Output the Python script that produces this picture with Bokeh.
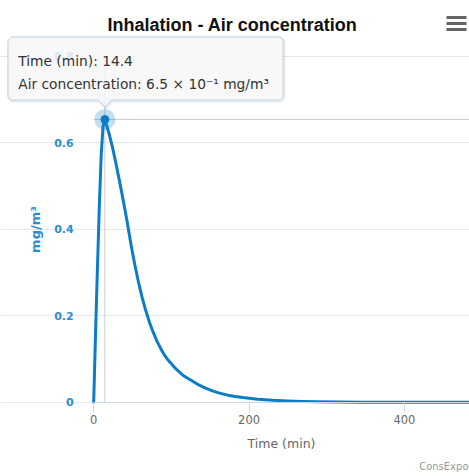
import math
from bokeh.plotting import figure
from bokeh.models import Range1d, FixedTicker, Label, PolyAnnotation, BoxAnnotation
from bokeh.embed import file_html
from bokeh.resources import INLINE

# ---------------- data ----------------
title_text = "Inhalation - Air concentration"
x_title = "Time (min)"
y_title = "mg/m³"
credit_text = "ConsExpo"
series_name = "Air concentration"
x_ticks = [0, 200, 400]
y_ticks = [0, 0.2, 0.4, 0.6, 0.8]
y_tick_labels = ["0", "0.2", "0.4", "0.6", "0.8"]

time_min = [0, 2.4, 4.8, 7.2, 9.6, 12.0, 14.4, 19.2, 24.0, 28.8, 33.6, 38.4, 43.2,
            48.0, 52.8, 57.6, 62.4, 67.2, 72.0, 76.8, 81.6, 86.4, 91.2, 96.0,
            105.6, 115.2, 124.8, 134.4, 144.0, 153.6, 163.2, 172.8, 182.4, 192.0,
            211.2, 230.4, 249.6, 268.8, 288.0, 316.8, 345.6, 384.0, 432.0, 490.0]
air_conc = [0.0, 0.16, 0.31, 0.45, 0.57, 0.637, 0.654, 0.625, 0.591, 0.551, 0.508, 0.463, 0.416,
            0.365, 0.319, 0.278, 0.242, 0.211, 0.184, 0.161, 0.141, 0.124, 0.109, 0.097,
            0.0777, 0.062, 0.0517, 0.041, 0.0326, 0.0259, 0.0206, 0.0165, 0.0134, 0.0109,
            0.0072, 0.0048, 0.0032, 0.0021, 0.0014, 0.0007, 0.0004, 0.0002, 0.0001, 0.00003]
hover_time = 14.4
y_max = 0.8

# ---------------- styling / layout ----------------
LINE = "#0b7cc7"
AXIS_BLUE = "#2a8dd4"
W, H = 469, 476
ORIGIN_X, ORIGIN_Y = 93.2, 401.8      # pixel position of (0, 0)
PX_PER_MIN = 0.7768
PX_PER_UNIT = 432.5

x_start = -ORIGIN_X / PX_PER_MIN
x_end = (W - ORIGIN_X) / PX_PER_MIN
y_end = ORIGIN_Y / PX_PER_UNIT
y_start = -(H - ORIGIN_Y) / PX_PER_UNIT


def sx(px):
    return px


def sy(py):
    return H - py


SUP = str.maketrans("-0123456789", "⁻⁰¹²³⁴⁵⁶⁷⁸⁹")


def sci(v):
    e = math.floor(math.log10(v))
    m = v / 10 ** e
    return f"{m:.1f} × 10{str(e).translate(SUP)}"


p = figure(width=W, height=H, output_backend="svg", toolbar_location=None,
           x_range=Range1d(x_start, x_end), y_range=Range1d(y_start, y_end),
           min_border_left=0, min_border_right=0, min_border_top=0, min_border_bottom=0)
p.outline_line_color = None
p.background_fill_color = "white"
p.border_fill_color = "white"

# grid
p.xgrid.grid_line_color = None
p.ygrid.grid_line_color = "#e6e6e6"
p.ygrid.ticker = FixedTicker(ticks=y_ticks)
p.ygrid.bounds = (0, x_end)

# x axis
xa = p.xaxis[0]
xa.fixed_location = 0
xa.bounds = (0, x_end)
xa.ticker = FixedTicker(ticks=x_ticks)
xa.axis_line_color = "#ccd6eb"
xa.major_tick_line_color = "#ccd6eb"
xa.major_tick_out = 10
xa.major_tick_in = 0
xa.minor_tick_line_color = None
xa.major_label_text_color = "#666666"
xa.major_label_text_font = "DejaVu Sans"
xa.major_label_text_font_size = "11.5px"
xa.major_label_standoff = 3
xa.axis_label = x_title
xa.axis_label_text_font = "DejaVu Sans"
xa.axis_label_text_font_style = "normal"
xa.axis_label_text_font_size = "12.5px"
xa.axis_label_text_color = "#666666"
xa.axis_label_standoff = 8

# y axis
ya = p.yaxis[0]
ya.fixed_location = 0
ya.bounds = (0, y_max)
ya.ticker = FixedTicker(ticks=y_ticks)
ya.major_label_overrides = {t: lab for t, lab in zip(y_ticks, y_tick_labels)}
ya.axis_line_color = None
ya.major_tick_line_color = None
ya.minor_tick_line_color = None
ya.major_tick_out = 0
ya.major_tick_in = 0
ya.major_label_text_color = AXIS_BLUE
ya.major_label_text_font = "DejaVu Sans"
ya.major_label_text_font_style = "bold"
ya.major_label_text_font_size = "11px"
ya.major_label_standoff = 20
ya.axis_label = y_title
ya.axis_label_text_color = AXIS_BLUE
ya.axis_label_text_font = "DejaVu Sans"
ya.axis_label_text_font_style = "bold"
ya.axis_label_text_font_size = "13px"
ya.axis_label_standoff = 8

# crosshairs at hovered point
hi = time_min.index(hover_time)
hx, hy = time_min[hi], air_conc[hi]
p.line([hx, hx], [0, y_max], line_color="#cccccc", line_width=1)
p.line([0, x_end], [hy, hy], line_color="#cccccc", line_width=1)

# series
p.line(time_min, air_conc, line_width=3, line_color=LINE, line_join="round", line_cap="round")
p.scatter([hx], [hy], size=21, fill_color=LINE, fill_alpha=0.25, line_color=None)
p.scatter([hx], [hy], size=8, fill_color=LINE, line_color=LINE)

# title
p.add_layout(Label(x=sx(232), y=sy(24), x_units="screen", y_units="screen", text=title_text,
                   text_font="Liberation Sans", text_font_style="bold", text_font_size="18px",
                   text_color="#111111", text_align="center", text_baseline="alphabetic"))

# context menu icon
for top in (15.5, 21.5, 27.5):
    p.add_layout(BoxAnnotation(left=sx(446), right=sx(466), top=sy(top), bottom=sy(top + 3),
                               left_units="screen", right_units="screen", top_units="screen",
                               bottom_units="screen", fill_color="#666666", fill_alpha=1,
                               line_color=None, level="overlay"))

# credit
p.add_layout(Label(x=sx(468), y=sy(466), x_units="screen", y_units="screen", text=credit_text,
                   text_font="DejaVu Sans", text_font_size="10px", text_color="#999999",
                   text_align="right", text_baseline="alphabetic"))

# tooltip
caret_x = ORIGIN_X + hx * PX_PER_MIN
L, R, T, B = 7.5, 282.5, 36.5, 99.5
r = 3
poly_x = [L + r, R - r, R, R, R - r, caret_x + 6.5, caret_x, caret_x - 6.5, L + r, L, L, L + r]
poly_y = [T, T, T + r, B - r, B, B, 106.5, B, B, B - r, T + r, T]
p.add_layout(PolyAnnotation(xs=[sx(v + 1) for v in poly_x], ys=[sy(v + 1) for v in poly_y],
                            xs_units="screen", ys_units="screen", fill_color=None,
                            line_color="black", line_alpha=0.08, line_width=3, level="overlay"))
p.add_layout(PolyAnnotation(xs=[sx(v) for v in poly_x], ys=[sy(v) for v in poly_y],
                            xs_units="screen", ys_units="screen", fill_color="#f7f7f7", fill_alpha=0.85,
                            line_color="#3a93d3", line_width=1, level="overlay"))
line1 = f"{x_title}: {hx:g}"
line2 = f"{series_name}: {sci(hy)} {y_title}"
for txt, base in ((line1, 60.7), (line2, 83.3)):
    p.add_layout(Label(x=sx(17.7), y=sy(base), x_units="screen", y_units="screen", text=txt,
                       text_font="DejaVu Sans", text_font_size="13.8px", text_color="#333333",
                       text_align="left", text_baseline="alphabetic", level="overlay"))

open("out.html", "w").write(file_html(p, INLINE))
